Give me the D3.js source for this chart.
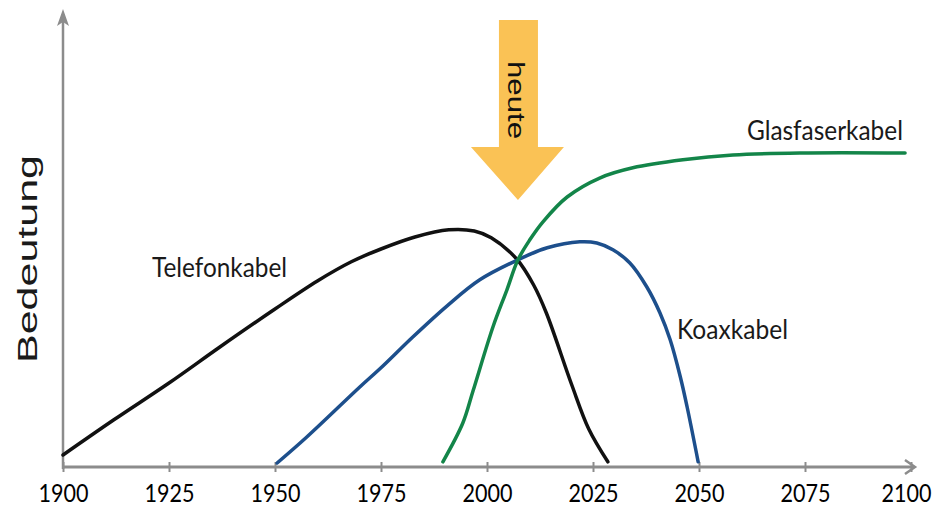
<!DOCTYPE html>
<html>
<head>
<meta charset="utf-8">
<script src="https://cdn.jsdelivr.net/npm/d3@7"></script>
<style>
  body { margin: 0; background: #fff; }
  text { font-family: Lato, "Liberation Sans", sans-serif; fill: #1a1a1a; }
</style>
</head>
<body>
<div id="chart-area"></div>
<script>
// Daten: [Jahr, Bedeutung]
var telefon = [[1900,3],[1912,11.8],[1925,21],[1937,30],[1950,39.5],[1960,46.5],[1968,51.3],
    [1975,54.5],[1983,57.5],[1991,59.3],[1997,59],[2001,57.3],[2007,52],[2011,45.5],
    [2014,38.5],[2020,20.5],[2024,9.5],[2028.5,1.3]];
var koax = [[1950.5,1],[1957.5,7.5],[1970,20],[1975,24.8],[1982.5,32.5],[1990.6,40.3],
    [1998.3,46.8],[2007.3,51.8],[2014.2,54.8],[2021.9,56.3],[2025.9,56],[2029.7,54.3],
    [2033.7,51],[2037.7,45],[2040.8,38.5],[2043.2,31.8],[2045.6,22.5],[2047.2,15],[2049.8,1.3]];
var glas = [[1989.6,1.3],[1994.3,11],[1996.7,19],[2001.4,35],[2004.7,44.3],[2007.3,51.8],
    [2010.1,56.8],[2013.2,61.3],[2018.9,67.5],[2026.7,72.3],[2034.4,74.8],[2046.2,76.8],
    [2058,78],[2073.8,78.5],[2098.6,78.5]];
var tickYears = [1900,1925,1950,1975,2000,2025,2050,2075,2100];
var heute = 2007.3;
var labels = [
    {text: "Telefonkabel", year: 1921, value: 47.5, len: 135},
    {text: "Koaxkabel", year: 2044.8, value: 32, len: 111},
    {text: "Glasfaserkabel", year: 2061.3, value: 81.7, len: 156}
];

var svg = d3.select("#chart-area").append("svg")
    .attr("width", 939)
    .attr("height", 507);

var x = d3.scaleLinear().domain([1900, 2100]).range([63, 911]);
var y = d3.scaleLinear().domain([0, 100]).range([467, 67]);

var axisGrey = "#8c8c8c";

// heute-Pfeil
var hx = x(heute);
svg.append("polygon")
    .attr("points", [
        [hx - 19, 20], [hx + 20, 20], [hx + 20, 147], [hx + 46, 147],
        [hx, 200], [hx - 47, 147], [hx - 19, 147]
    ].map(function(p){ return p.join(","); }).join(" "))
    .attr("fill", "#fac255");
svg.append("text")
    .attr("transform", "translate(" + (hx - 10) + ",100) rotate(90)")
    .attr("text-anchor", "middle")
    .attr("textLength", 78)
    .attr("lengthAdjust", "spacingAndGlyphs")
    .style("font-family", "'Liberation Sans', Arial, sans-serif")
    .style("font-size", "24px")
    .style("fill", "#111")
    .text("heute");

// Achsen
var xAxis = d3.axisBottom(x)
    .tickValues(tickYears)
    .tickFormat(d3.format("d"))
    .tickSize(0)
    .tickPadding(0);

var gx = svg.append("g")
    .attr("transform", "translate(0," + y(0) + ")")
    .call(xAxis);
gx.select(".domain").remove();
gx.selectAll(".tick line").remove();
gx.selectAll(".tick").append("line")
    .attr("y1", -5).attr("y2", 5)
    .attr("stroke", axisGrey).attr("stroke-width", 2);
gx.selectAll(".tick text")
    .attr("x", function(d){ return d === 2100 ? -5 : 0; })
    .attr("y", 35)
    .attr("dy", null)
    .attr("textLength", 50)
    .attr("lengthAdjust", "spacingAndGlyphs")
    .style("font-size", "25px")
    .style("font-family", "Lato, sans-serif")
    .style("fill", "#000");

svg.append("line")
    .attr("x1", x(1900)).attr("y1", y(0))
    .attr("x2", 914).attr("y2", y(0))
    .attr("stroke", axisGrey).attr("stroke-width", 3);
svg.append("path")
    .attr("d", "M905," + (y(0) - 7) + "L915," + y(0) + "L905," + (y(0) + 7))
    .attr("fill", "none").attr("stroke", axisGrey).attr("stroke-width", 2.5);

svg.append("line")
    .attr("x1", x(1900)).attr("y1", y(0) + 2)
    .attr("x2", x(1900)).attr("y2", 14)
    .attr("stroke", axisGrey).attr("stroke-width", 2.5);
svg.append("path")
    .attr("d", "M" + (x(1900) - 6) + ",26L" + x(1900) + ",9L" + (x(1900) + 6) + ",26L" + x(1900) + ",22Z")
    .attr("fill", axisGrey);

svg.append("text")
    .attr("transform", "translate(37,259) rotate(-90)")
    .attr("text-anchor", "middle")
    .attr("textLength", 208)
    .attr("lengthAdjust", "spacingAndGlyphs")
    .style("font-family", "'Liberation Sans', Arial, sans-serif")
    .style("font-size", "27px")
    .text("Bedeutung");

// Kurven
var line = d3.line()
    .x(function(d){ return x(d[0]); })
    .y(function(d){ return y(d[1]); })
    .curve(d3.curveCatmullRom.alpha(0.5));

var series = [
    {data: telefon, color: "#111111"},
    {data: koax, color: "#1d4f8c"},
    {data: glas, color: "#138549"}
];

svg.selectAll("path.kurve")
    .data(series)
    .enter()
    .append("path")
    .attr("class", "kurve")
    .attr("d", function(d){ return line(d.data); })
    .attr("fill", "none")
    .attr("stroke", function(d){ return d.color; })
    .attr("stroke-width", 3.5)
    .attr("stroke-linecap", "round");

svg.selectAll("text.label")
    .data(labels)
    .enter()
    .append("text")
    .attr("class", "label")
    .attr("x", function(d){ return x(d.year); })
    .attr("y", function(d){ return y(d.value); })
    .attr("textLength", function(d){ return d.len; })
    .attr("lengthAdjust", "spacingAndGlyphs")
    .style("font-size", "27px")
    .text(function(d){ return d.text; });
</script>
</body>
</html>
